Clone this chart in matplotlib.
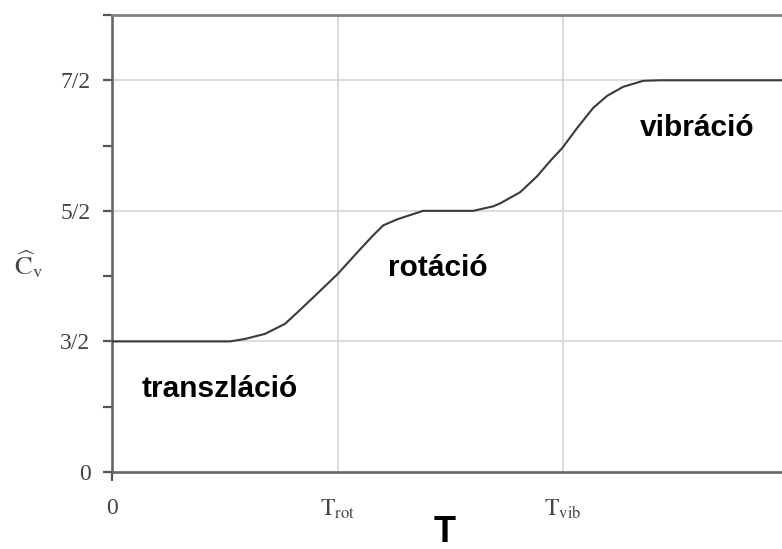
import matplotlib
matplotlib.use("Agg")
import matplotlib.pyplot as plt

plt.rcParams['mathtext.fontset'] = 'stix'

# Heat capacity of a diatomic gas vs temperature (schematic levels)
T_pts = [0.0, 0.523, 0.590, 0.678, 0.767, 0.825, 0.900, 1.002, 1.091, 1.153,
         1.202, 1.264, 1.379, 1.601, 1.690, 1.721, 1.809, 1.885, 1.942, 1.996,
         2.062, 2.133, 2.195, 2.266, 2.355, 2.430, 2.97]
cv_pts = [2.0, 2.0, 2.038, 2.115, 2.269, 2.454, 2.700, 3.038, 3.377, 3.608,
          3.777, 3.870, 4.0, 4.0, 4.069, 4.115, 4.285, 4.531, 4.762, 4.962,
          5.269, 5.577, 5.762, 5.900, 5.992, 6.0, 6.0]

ytick_pos = [0, 1, 2, 3, 4, 5, 6, 7]
ytick_lab = ['0', '', '3/2', '', '5/2', '', '7/2', '']
grid_y = [2, 4, 6]
xtick_pos = [0, 1, 2]
xtick_lab = ['0', r'$\mathrm{T}_{\mathrm{rot}}$', r'$\mathrm{T}_{\mathrm{vib}}$']

regions = ['transzláció', 'rotáció', 'vibráció']
region_xy = [(0.479, 1.154), (1.443, 3.0), (2.592, 5.14)]

fig = plt.figure(figsize=(7.82, 5.49), dpi=100)
ax = fig.add_axes([0.1432, 0.1403, 0.8568, 0.8324])
ax.set_xlim(0, 2.97)
ax.set_ylim(0, 7)

for gy in grid_y:
    ax.axhline(gy, color='#d6d6d6', lw=1.2, zorder=0)
for gx in xtick_pos[1:]:
    ax.axvline(gx, color='#d6d6d6', lw=1.2, zorder=0)

ax.plot(T_pts, cv_pts, color='#3a3a3a', lw=1.5, zorder=3,
        solid_joinstyle='round')

for s in ['left', 'bottom']:
    ax.spines[s].set_color('#666666')
    ax.spines[s].set_linewidth(1.9)
ax.spines['top'].set_color('#808080')
ax.spines['top'].set_linewidth(2.0)
ax.spines['right'].set_visible(False)

ax.set_yticks(ytick_pos)
ax.set_yticklabels(ytick_lab, fontfamily='Liberation Serif', fontsize=17, color='#444444')
ax.set_xticks(xtick_pos)
ax.set_xticklabels(xtick_lab, fontfamily='Liberation Serif', fontsize=17, color='#444444')
ax.tick_params(axis='both', direction='out', length=6.5, width=1.6, color='#555555')
ax.tick_params(axis='y', pad=9)
ax.tick_params(axis='x', pad=12)
for t in ax.xaxis.get_major_ticks()[1:]:
    t.tick1line.set_visible(False)

ax.set_ylabel(r'$\widehat{\mathrm{C}}_{\mathrm{v}}$', rotation=0, fontsize=19,
              color='#444444', ha='center', va='center')
ax.yaxis.set_label_coords(-0.125, 0.455)
ax.set_xlabel('T', fontfamily='Liberation Sans', fontweight='bold', fontsize=26,
              color='black', va='top')
ax.xaxis.set_label_coords(0.496, -0.094)

for name, (tx, ty) in zip(regions, region_xy):
    ax.text(tx, ty, name, fontfamily='Liberation Sans', fontweight='bold',
            fontsize=21.5, ha='center', va='baseline', color='black')

fig.savefig('out.png', dpi=100)
